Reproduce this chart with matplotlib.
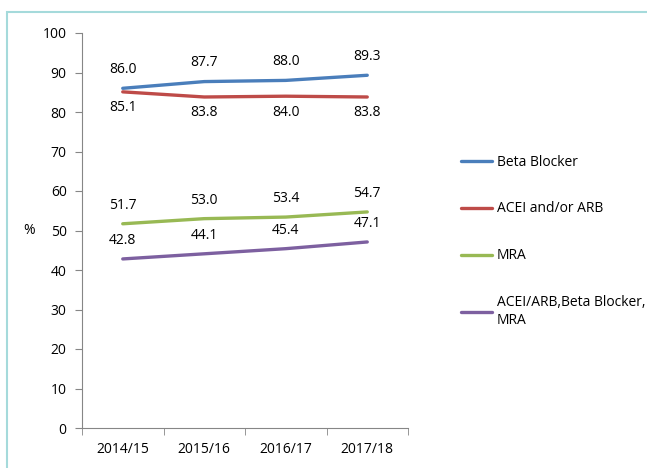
import numpy as np
import matplotlib.pyplot as plt
from matplotlib.patches import Rectangle

years = ['2014/15', '2015/16', '2016/17', '2017/18']
beta_blocker = [86.0, 87.7, 88.0, 89.3]
acei_arb = [85.1, 83.8, 84.0, 83.8]
mra = [51.7, 53.0, 53.4, 54.7]
combined = [42.8, 44.1, 45.4, 47.1]

series = [
    ('Beta Blocker', beta_blocker, '#4a7ebb', 'above'),
    ('ACEI and/or ARB', acei_arb, '#be4b48', 'below'),
    ('MRA', mra, '#98b954', 'above'),
    ('ACEI/ARB,Beta Blocker,\nMRA', combined, '#7d60a0', 'above'),
]

plt.rcParams['font.family'] = ['Open Sans', 'DejaVu Sans']

W, H = 647, 468
fig = plt.figure(figsize=(W / 100, H / 100), dpi=100)

# teal frame (only top and left edges visible)
fig.patches.append(Rectangle((7 / W, -0.1), 1.2, 1 - 12 / H + 0.1,
                             transform=fig.transFigure, fill=False,
                             edgecolor='#a5dadb', linewidth=1.5))

ax = fig.add_axes([82 / W, 1 - 428 / H, (408 - 82) / W, (428 - 33) / H])

x = np.arange(len(years))
for name, vals, col, pos in series:
    ax.plot(x, vals, color=col, linewidth=2.4, label=name, solid_capstyle='round')
    for xi, v in zip(x, vals):
        if pos == 'above':
            ax.annotate(f'{v:.1f}', (xi, v), xytext=(0, 8), textcoords='offset points',
                        ha='center', va='bottom', fontsize=10)
        else:
            ax.annotate(f'{v:.1f}', (xi, v), xytext=(0, -6), textcoords='offset points',
                        ha='center', va='top', fontsize=10)

ax.set_xlim(-0.5, 3.5)
ax.set_ylim(0, 100)
ax.set_yticks(np.arange(0, 101, 10))
ax.set_xticks(x)
ax.set_xticklabels(years, fontsize=10)
ax.set_xticks(np.arange(-0.5, 4, 1), minor=True)
ax.tick_params(axis='x', which='major', length=0, pad=10)
ax.tick_params(axis='x', which='minor', length=5, direction='out', color='#868686')
ax.tick_params(axis='y', length=5, color='#868686', labelsize=10, pad=6)
for s in ['top', 'right']:
    ax.spines[s].set_visible(False)
for s in ['left', 'bottom']:
    ax.spines[s].set_color('#868686')
ax.set_ylabel('%', rotation=0, fontsize=10, labelpad=10, va='center')

fig.legend(loc='upper left', bbox_to_anchor=(448 / W, 1 - 142 / H), frameon=False,
           fontsize=10, handlelength=2.3, handletextpad=0.3, labelspacing=2.3)

fig.savefig('out.png', dpi=100, facecolor='white')
